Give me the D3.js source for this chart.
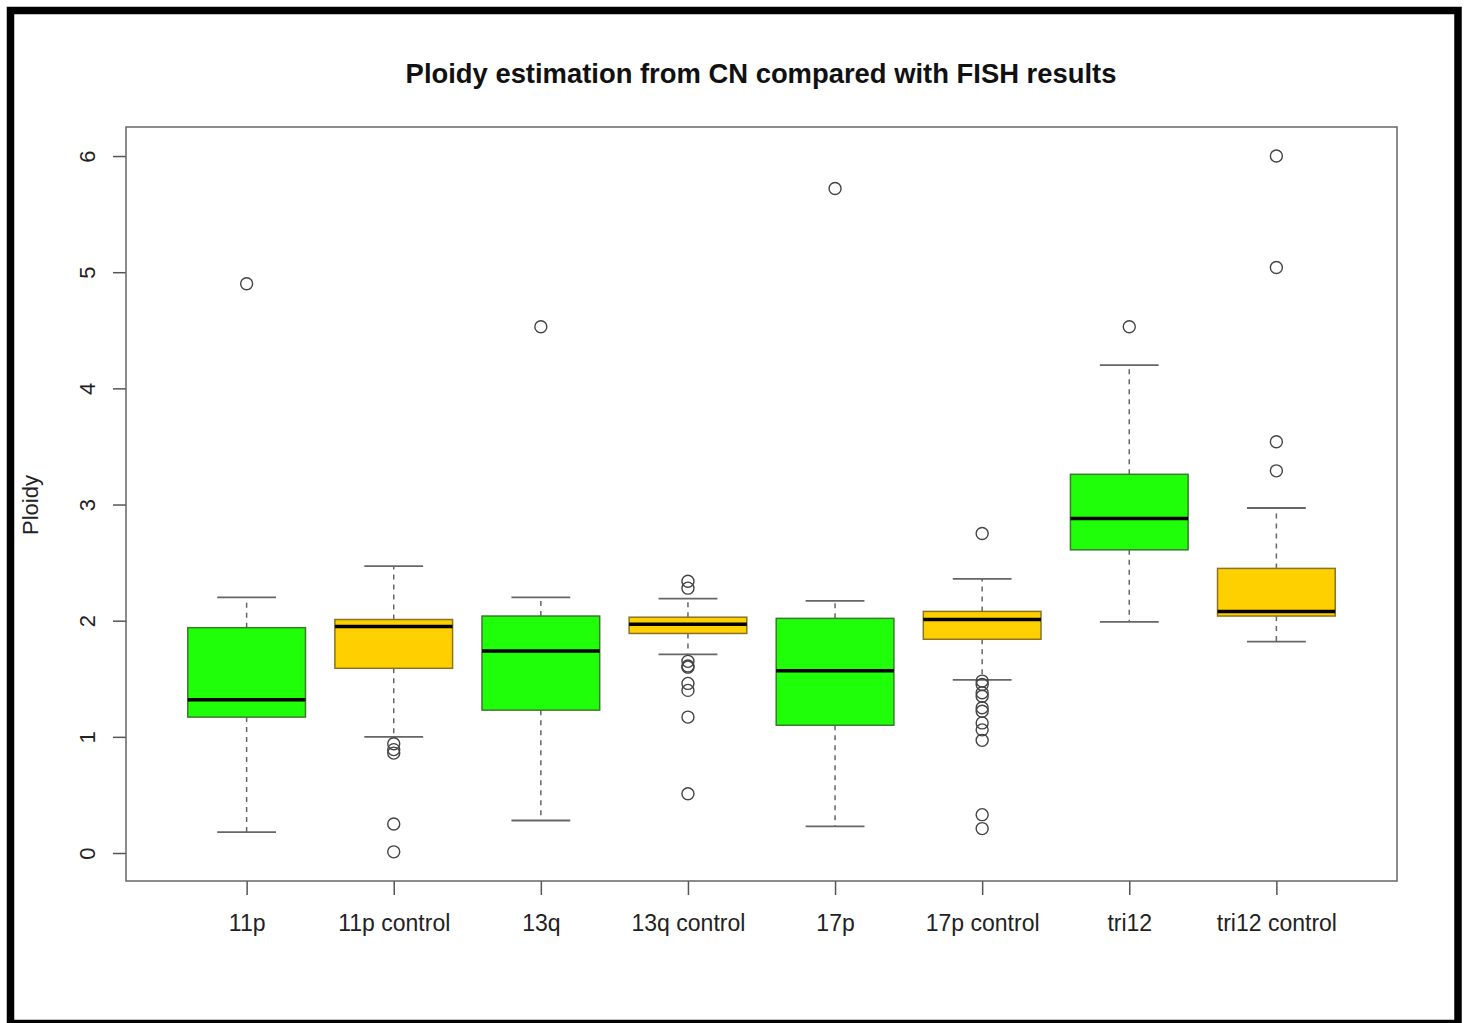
<!DOCTYPE html>
<html>
<head>
<meta charset="utf-8">
<script src="https://cdn.jsdelivr.net/npm/d3@7"></script>
<style>
  body { margin: 0; background: #fff; }
  text { font-family: "Liberation Sans", Arial, sans-serif; }
</style>
</head>
<body>
<div id="chart"></div>
<script>
// data
const categories = ["11p", "11p control", "13q", "13q control", "17p", "17p control", "tri12", "tri12 control"];
const lowerWhisker = [0.18, 1.00, 0.28, 1.71, 0.23, 1.49, 1.99, 1.82];
const q1 = [1.17, 1.59, 1.23, 1.89, 1.10, 1.84, 2.61, 2.04];
const medians = [1.32, 1.95, 1.74, 1.97, 1.57, 2.01, 2.88, 2.08];
const q3 = [1.94, 2.01, 2.04, 2.03, 2.02, 2.08, 3.26, 2.45];
const upperWhisker = [2.20, 2.47, 2.20, 2.19, 2.17, 2.36, 4.20, 2.97];
const outliers = [
    [4.90],
    [0.94, 0.89, 0.86, 0.25, 0.01],
    [4.53],
    [2.34, 2.28, 1.65, 1.61, 1.60, 1.46, 1.40, 1.17, 0.51],
    [5.72],
    [2.75, 1.48, 1.45, 1.38, 1.35, 1.25, 1.22, 1.12, 1.06, 0.97, 0.33, 0.21],
    [4.53],
    [6.00, 5.04, 3.54, 3.29]
];
const yTicks = [0, 1, 2, 3, 4, 5, 6];

const W = 1468, H = 1023;
const plot = { left: 126, right: 1397, top: 127, bottom: 881 };

const svg = d3.select("#chart").append("svg")
    .attr("width", W)
    .attr("height", H);

svg.append("rect")
    .attr("width", W).attr("height", H)
    .attr("fill", "#fff");

// black outer frame
svg.append("rect")
    .attr("x", 10.5).attr("y", 10.5)
    .attr("width", 1447.5).attr("height", 1013)
    .attr("fill", "none")
    .attr("stroke", "#000")
    .attr("stroke-width", 7.5);

let x = d3.scaleLinear()
    .domain([0.18, categories.length + 0.82])
    .range([plot.left, plot.right]);

let y = d3.scaleLinear()
    .domain([-0.241, 6.25])
    .range([plot.bottom, plot.top]);

svg.append("text")
    .attr("x", 761)
    .attr("y", 83)
    .attr("text-anchor", "middle")
    .style("font-size", "27.4px")
    .style("font-weight", "bold")
    .style("fill", "#111")
    .text("Ploidy estimation from CN compared with FISH results");

// y axis
let yAxis = svg.append("g")
    .attr("transform", `translate(${plot.left},0)`)
    .call(d3.axisLeft(y).tickValues(yTicks).tickSize(13).tickPadding(0).tickFormat(d3.format("d")));
yAxis.selectAll("line").attr("stroke", "#555").attr("stroke-width", 1.5);
yAxis.select(".domain").remove();
yAxis.selectAll("text")
    .attr("x", 0)
    .attr("text-anchor", "middle")
    .attr("transform", "translate(-39,0) rotate(-90)")
    .attr("dy", "0.35em")
    .style("font-size", "22px")
    .style("fill", "#222");

// x axis
let xAxis = svg.append("g")
    .attr("transform", `translate(0,${plot.bottom})`)
    .call(d3.axisBottom(x).tickValues(d3.range(1, categories.length + 1))
        .tickSize(14).tickPadding(20).tickFormat(i => categories[i - 1]));
xAxis.selectAll("line").attr("stroke", "#555").attr("stroke-width", 1.5);
xAxis.select(".domain").remove();
xAxis.selectAll("text")
    .style("font-size", "23px")
    .style("fill", "#222");

svg.append("text")
    .attr("transform", "translate(38,505) rotate(-90)")
    .attr("text-anchor", "middle")
    .style("font-size", "22px")
    .style("fill", "#222")
    .text("Ploidy");

// boxes
let boxes = svg.selectAll(".box")
    .data(categories)
    .enter()
    .append("g")
    .attr("class", "box");

let half = x(1.4) - x(1);
let cap = x(1.2) - x(1);

boxes.each(function(c, i) {
    let g = d3.select(this);
    let cx = x(i + 1);
    let fill = c.includes("control") ? "#ffd000" : "#20ff0a";
    let edge = c.includes("control") ? "#8a7420" : "#3a7a2a";

    [[q3[i], upperWhisker[i]], [q1[i], lowerWhisker[i]]].forEach(([a, b]) => {
        g.append("line")
            .attr("x1", cx).attr("x2", cx)
            .attr("y1", y(a)).attr("y2", y(b))
            .attr("stroke", "#666")
            .attr("stroke-width", 1.5)
            .attr("stroke-dasharray", "5,5");
        g.append("line")
            .attr("x1", cx - cap).attr("x2", cx + cap)
            .attr("y1", y(b)).attr("y2", y(b))
            .attr("stroke", "#666")
            .attr("stroke-width", 1.8);
    });

    g.append("rect")
        .attr("x", cx - half)
        .attr("y", y(q3[i]))
        .attr("width", 2 * half)
        .attr("height", y(q1[i]) - y(q3[i]))
        .attr("fill", fill)
        .attr("stroke", edge)
        .attr("stroke-width", 1.5);

    g.append("line")
        .attr("x1", cx - half).attr("x2", cx + half)
        .attr("y1", y(medians[i])).attr("y2", y(medians[i]))
        .attr("stroke", "#000")
        .attr("stroke-width", 3.5);

    g.selectAll("circle")
        .data(outliers[i])
        .enter()
        .append("circle")
        .attr("cx", cx)
        .attr("cy", d => y(d))
        .attr("r", 6)
        .attr("fill", "none")
        .attr("stroke", "#444")
        .attr("stroke-width", 1.4);
});

// plot frame
svg.append("rect")
    .attr("x", plot.left).attr("y", plot.top)
    .attr("width", plot.right - plot.left)
    .attr("height", plot.bottom - plot.top)
    .attr("fill", "none")
    .attr("stroke", "#666")
    .attr("stroke-width", 1.5);
</script>
</body>
</html>
